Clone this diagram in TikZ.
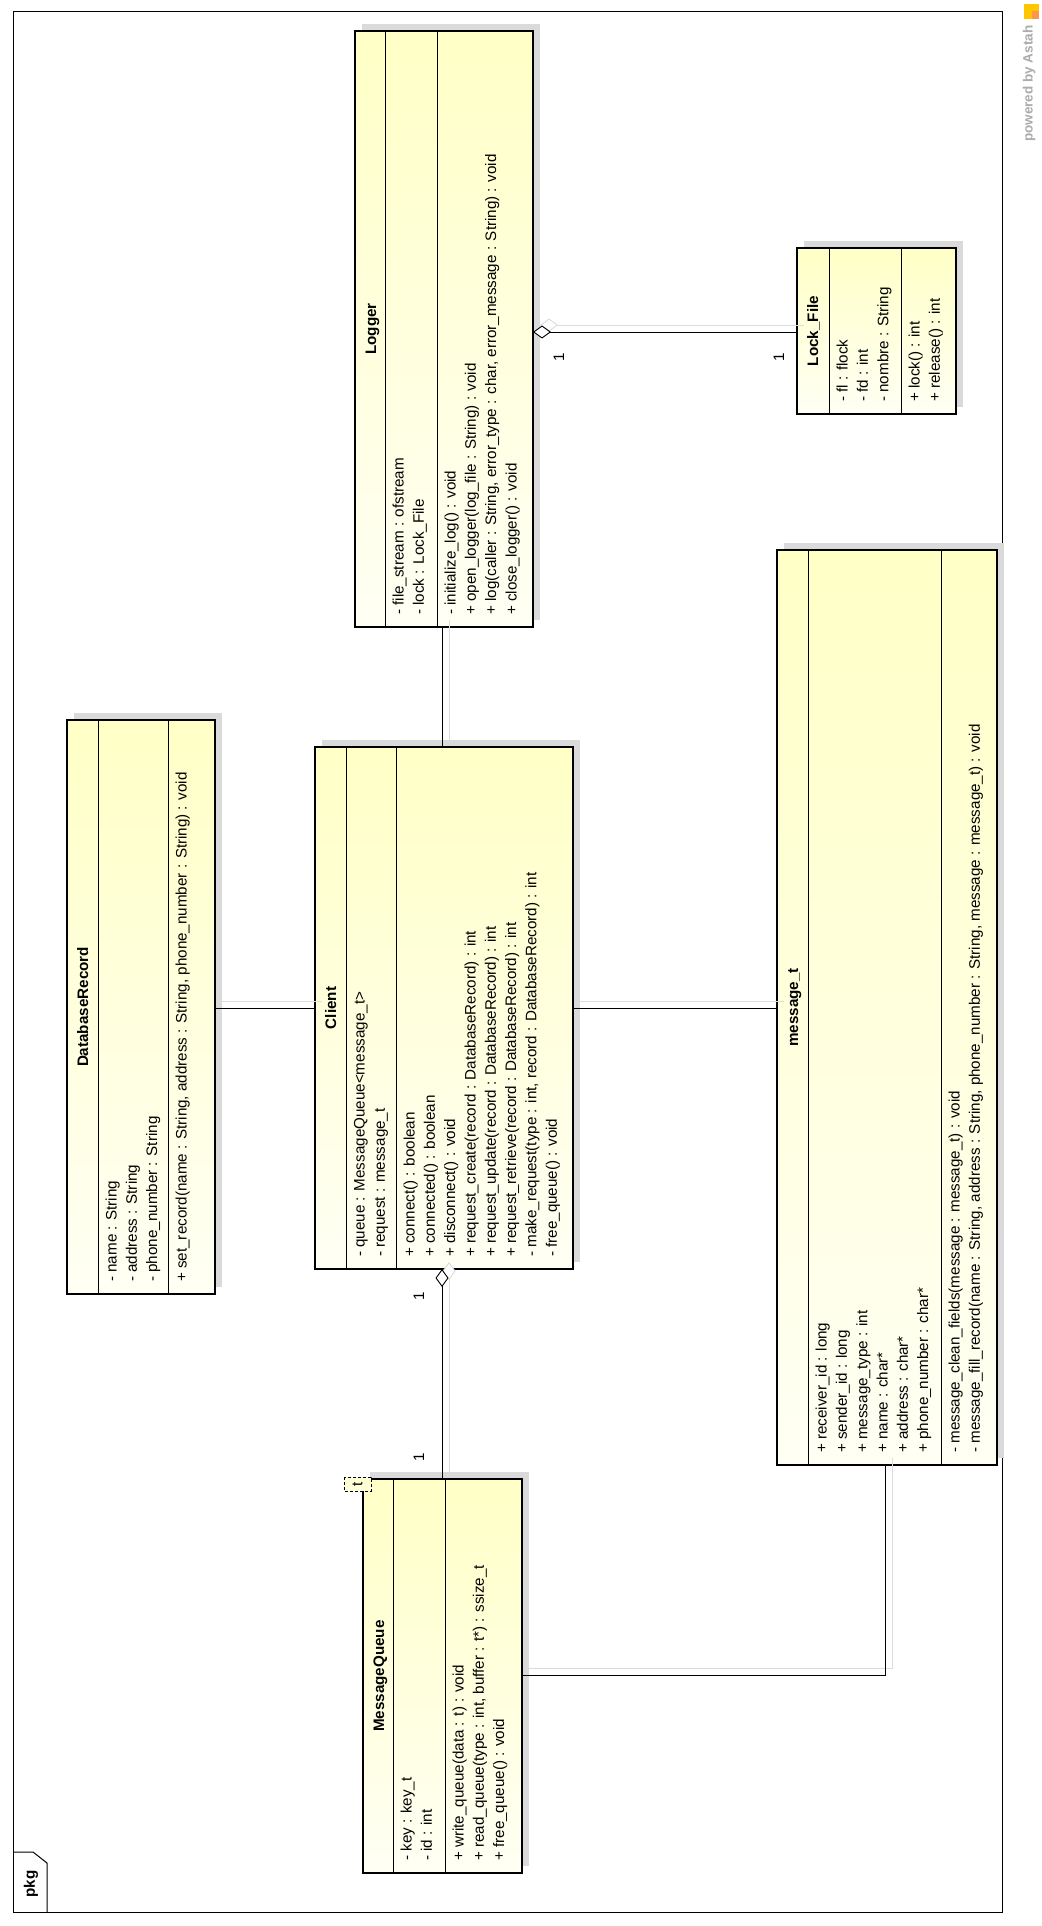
\documentclass[tikz,border=0pt]{standalone}
\usepackage{fontspec}
\setmainfont{Liberation Sans}
\usetikzlibrary{arrows.meta}
\definecolor{ylwtop}{RGB}{255,255,198}
\definecolor{ylwbot}{RGB}{255,255,244}
\definecolor{shadowc}{RGB}{218,218,218}
\definecolor{cshadow}{RGB}{220,220,220}
\newcommand{\memfont}{\fontsize{15.2}{18}\selectfont}
\newcommand{\members}[4]{%
  \foreach \txt [count=\k from 0] in {#4}{%
    \node[member] (#1\k) at ({#2+16+20.3*\k},#3) {\txt};}}
\tikzset{
  classbox/.style={draw=black, line width=2.6pt, top color=ylwtop, bottom color=ylwbot, inner sep=0pt, outer sep=0pt},
  boxshadow/.style={fill=shadowc},
  comp/.style={line width=0.9pt, draw=black},
  member/.style={rotate=90, anchor=mid west, inner sep=0pt, font=\memfont},
  cname/.style={rotate=90, anchor=mid, inner sep=0pt, font=\memfont\bfseries},
  mult/.style={rotate=90, inner sep=0pt, font=\memfont},
  conn/.style={line width=0.85pt, draw=black},
  connshadow/.style={line width=0.85pt, draw=cshadow, transform canvas={xshift=7pt,yshift=7pt}},
  agg/.style={{Diamond[length=18pt, width=13pt, fill=white, line width=0.9pt]}-},
  frame/.style={line width=1pt, draw=black},
  tmpl/.style={rotate=90, draw=black, dash pattern=on 3pt off 2pt, line width=0.9pt, fill=ylwtop!70!white, minimum width=14pt, minimum height=27pt, inner sep=0pt, font=\memfont},
}
\begin{document}
\begin{tikzpicture}[x=1pt,y=-1pt]
\fill[white] (0,0) rectangle (1041,1926);
\useasboundingbox (0,0) rectangle (1041,1926);
% package frame
\draw[frame] (13,12) rectangle (1002,1912);
\draw[frame] (13,1852) -- (33,1852) -- (47,1863) -- (47,1912);
\node[rotate=90, inner sep=0pt, font=\memfont\bfseries] (pkg) at (31,1884) {pkg};
% watermark
\node[rotate=90, anchor=mid west, inner sep=0pt, font=\fontsize{13.5}{15}\selectfont\bfseries, text=black!33] (astah) at (1030,142) {powered by Astah};
\fill[orange!45!yellow] (1024,4) rectangle (1039,19);
\fill[orange!80!red!70] (1031.5,11.5) rectangle (1039,19);

% helper coordinates for connectors
\coordinate (cx) at (442,0);
\coordinate (ly) at (0,332);
\coordinate (ry) at (0,1008);
\coordinate (mx) at (885,0);
\coordinate (my) at (0,1675);

% box shadows
\fill[boxshadow] (362,24) rectangle (540,620);
\fill[boxshadow] (804,241) rectangle (963,407);
\fill[boxshadow] (784,543) rectangle (1004,1458);
\fill[boxshadow] (74,713) rectangle (222,1287);
\fill[boxshadow] (322,740) rectangle (580,1262);
\fill[boxshadow] (370,1472) rectangle (529,1866);

% class boxes
\node[classbox, minimum width=178pt, minimum height=596pt] (logger) at (444,329) {};
\node[classbox, minimum width=159pt, minimum height=166pt] (lock) at (876.5,331) {};
\node[classbox, minimum width=220pt, minimum height=915pt] (msg) at (887,1007.5) {};
\node[classbox, minimum width=148pt, minimum height=574pt] (db) at (141,1007) {};
\node[classbox, minimum width=258pt, minimum height=522pt] (client) at (444,1008) {};
\node[classbox, minimum width=159pt, minimum height=394pt] (mq) at (442.5,1676) {};

% connector shadows
\draw[connshadow] (logger.south -| cx) -- (client.north -| cx);
\draw[connshadow, agg] (logger.east |- ly) -- (lock.west |- ly);
\draw[connshadow] (db.east |- ry) -- (client.west |- ry);
\draw[connshadow] (client.east |- ry) -- (msg.west |- ry);
\draw[connshadow, agg] (client.south -| cx) -- (mq.north -| cx);
\draw[connshadow] (msg.south -| mx) |- (mq.east |- my);

% Logger
\draw[comp] (385,31) -- (385,627);
\draw[comp] (437,31) -- (437,627);
\node[cname] (loggername) at (373.5,329) {Logger};
\members{loggerA}{385}{615}{{- file\_stream : ofstream},{- lock : Lock\_File}}
\members{loggerO}{437}{615}{{- initialize\_log() : void},{+ open\_logger(log\_file : String) : void},{+ log(caller : String, error\_type : char, error\_message : String) : void},{+ close\_logger() : void}}

% Lock_File
\draw[comp] (829,248) -- (829,414);
\draw[comp] (901,248) -- (901,414);
\node[cname] (lockname) at (815.5,331) {Lock\_File};
\members{lockA}{829}{402}{{- fl : flock},{- fd : int},{- nombre : String}}
\members{lockO}{901}{402}{{+ lock() : int},{+ release() : int}}

% message_t
\draw[comp] (808,550) -- (808,1465);
\draw[comp] (941,550) -- (941,1465);
\node[cname] (msgname) at (795.5,1007.5) {message\_t};
\members{msgA}{808}{1453}{{+ receiver\_id : long},{+ sender\_id : long},{+ message\_type : int},{+ name : char*},{+ address : char*},{+ phone\_number : char*}}
\members{msgO}{941}{1453}{{- message\_clean\_fields(message : message\_t) : void},{- message\_fill\_record(name : String, address : String, phone\_number : String, message : message\_t) : void}}

% DatabaseRecord
\draw[comp] (98,720) -- (98,1294);
\draw[comp] (168,720) -- (168,1294);
\node[cname] (dbname) at (85.5,1007) {DatabaseRecord};
\members{dbA}{98}{1282}{{- name : String},{- address : String},{- phone\_number : String}}
\members{dbO}{168}{1282}{{+ set\_record(name : String, address : String, phone\_number : String) : void}}

% Client
\draw[comp] (346,747) -- (346,1269);
\draw[comp] (396,747) -- (396,1269);
\node[cname] (clientname) at (333.5,1008) {Client};
\members{clientA}{346}{1257}{{- queue : MessageQueue<message\_t>},{- request : message\_t}}
\members{clientO}{396}{1257}{{+ connect() : boolean},{+ connected() : boolean},{+ disconnect() : void},{+ request\_create(record : DatabaseRecord) : int},{+ request\_update(record : DatabaseRecord) : int},{+ request\_retrieve(record : DatabaseRecord) : int},{- make\_request(type : int, record : DatabaseRecord) : int},{- free\_queue() : void}}

% MessageQueue
\draw[comp] (393,1479) -- (393,1873);
\draw[comp] (445,1479) -- (445,1873);
\node[cname] (mqname) at (381.5,1676) {MessageQueue};
\members{mqA}{393}{1861}{{- key : key\_t},{- id : int}}
\members{mqO}{445}{1861}{{+ write\_queue(data : t) : void},{+ read\_queue(type : int, buffer : t*) : ssize\_t},{+ free\_queue() : void}}
\node[tmpl] (mqt) at (357.5,1484) {t};

% connectors
\draw[conn] (logger.south -| cx) -- (client.north -| cx);
\draw[conn, agg] (logger.east |- ly) -- (lock.west |- ly);
\draw[conn] (db.east |- ry) -- (client.west |- ry);
\draw[conn] (client.east |- ry) -- (msg.west |- ry);
\draw[conn, agg] (client.south -| cx) -- (mq.north -| cx);
\draw[conn] (msg.south -| mx) |- (mq.east |- my);

% multiplicities
\node[mult] (m1) at (559,357) {1};
\node[mult] (m2) at (779,357) {1};
\node[mult] (m3) at (419,1296) {1};
\node[mult] (m4) at (419,1457) {1};
\end{tikzpicture}
\end{document}
